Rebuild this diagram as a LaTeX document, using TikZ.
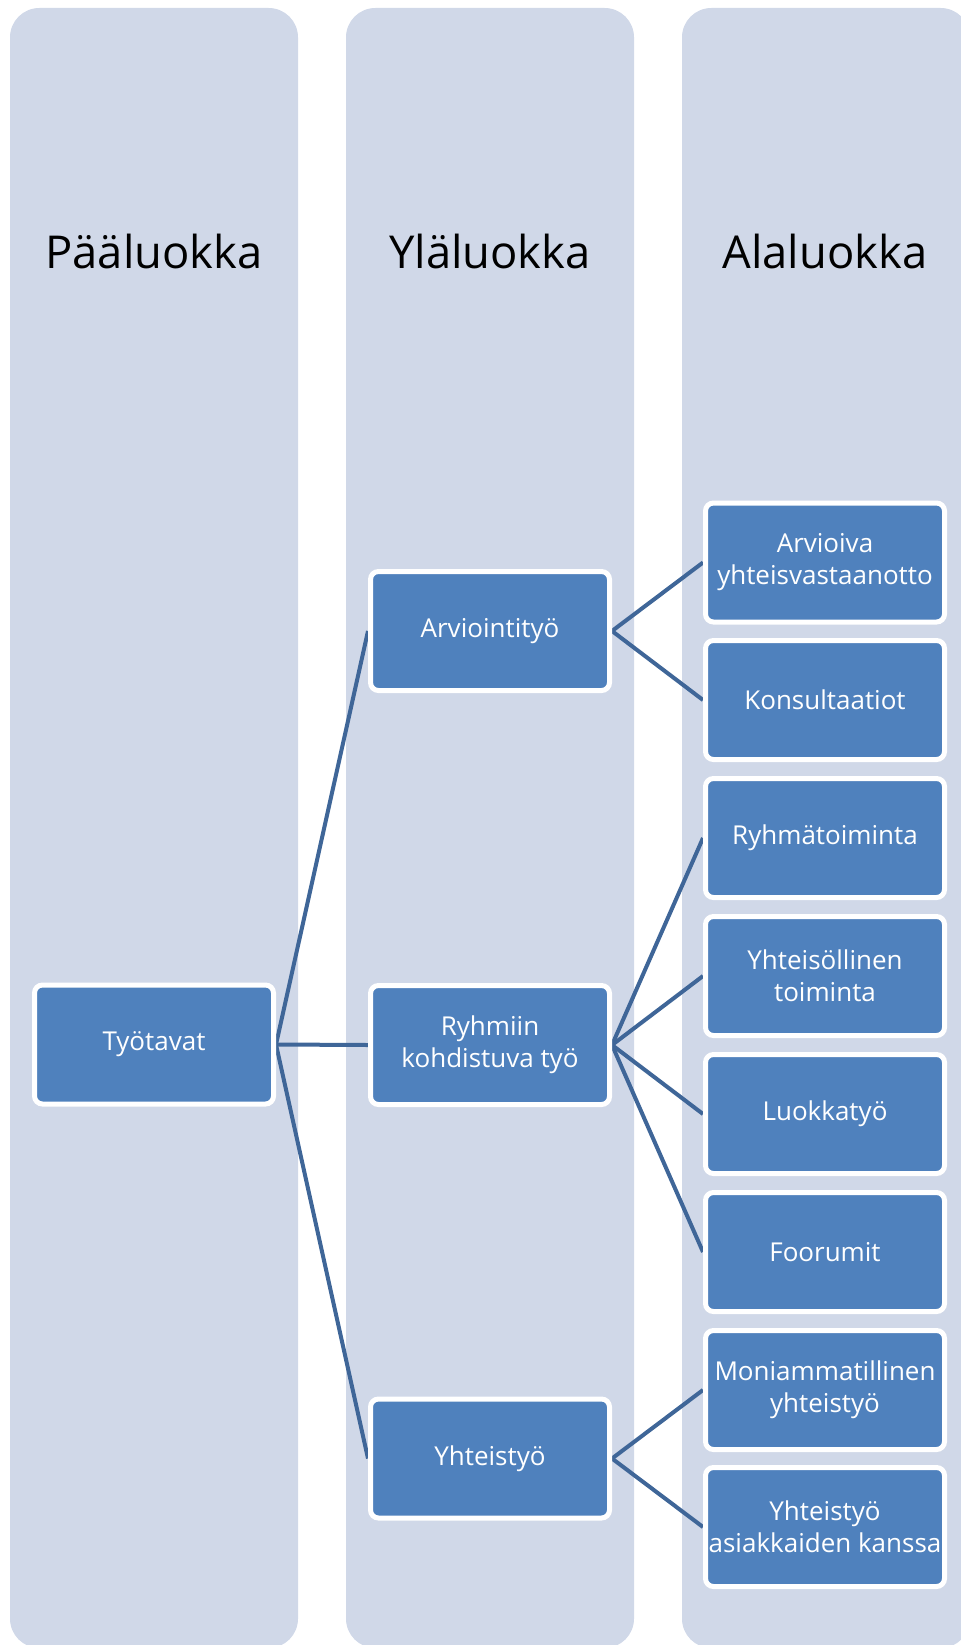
\documentclass[tikz,border=0pt]{standalone}
\usepackage{fontspec}
\setmainfont{Open Sans}
\usetikzlibrary{backgrounds}
\definecolor{colbg}{HTML}{D0D8E8}
\definecolor{boxblue}{HTML}{4F81BD}
\definecolor{linkblue}{HTML}{3F6698}
\begin{document}
\begin{tikzpicture}[x=0.75pt,y=-0.75pt,
  lane/.style={fill=colbg, rounded corners=22pt},
  header/.style={font=\fontsize{34}{41}\selectfont, anchor=base, text=black},
  box/.style={draw=white, line width=3.75pt, fill=boxblue, rounded corners=6pt,
    minimum width=179.25pt, minimum height=89.25pt, inner sep=1pt,
    align=center, text=white, font=\fontsize{19.5}{24}\selectfont},
  link/.style={draw=linkblue, line width=3pt}]
\useasboundingbox (0,0) rectangle (960,1645);
\clip (0,0) rectangle (960,1645);

% three category lanes
\begin{pgfonlayer}{background}
  \fill[lane] (10,8) rectangle (298,1648);
  \fill[lane] (346,8) rectangle (634,1648);
  \fill[lane] (682,8) rectangle (970,1648);
\end{pgfonlayer}

\node[header] (h1) at (154,268) {Pääluokka};
\node[header] (h2) at (490,268) {Yläluokka};
\node[header] (h3) at (825,268) {Alaluokka};

% main category
\node[box] (tyo) at (154,1044.5) {Työtavat};

% upper categories
\node[box] (arv) at (490,631) {Arviointityö};
\node[box] (ryh) at (490,1045) {Ryhmiin\\kohdistuva työ};
\node[box] (yht) at (490,1458.5) {Yhteistyö};

% subcategories
\node[box] (a1) at (825,562.5) {Arvioiva\\yhteisvastaanotto};
\node[box] (a2) at (825,700) {Konsultaatiot};
\node[box] (a3) at (825,838) {Ryhmätoiminta};
\node[box] (a4) at (825,976) {Yhteisöllinen\\toiminta};
\node[box] (a5) at (825,1114) {Luokkatyö};
\node[box] (a6) at (825,1252) {Foorumit};
\node[box] (a7) at (825,1390) {Moniammatillinen\\yhteistyö};
\node[box] (a8) at (825,1527) {Yhteistyö\\asiakkaiden kanssa};

% connectors, behind the boxes
\begin{pgfonlayer}{background}
  \foreach \c in {arv,ryh,yht} \draw[link] (tyo.east) -- (\c.west);
  \foreach \c in {a1,a2} \draw[link] (arv.east) -- (\c.west);
  \foreach \c in {a3,a4,a5,a6} \draw[link] (ryh.east) -- (\c.west);
  \foreach \c in {a7,a8} \draw[link] (yht.east) -- (\c.west);
\end{pgfonlayer}
\end{tikzpicture}
\end{document}
